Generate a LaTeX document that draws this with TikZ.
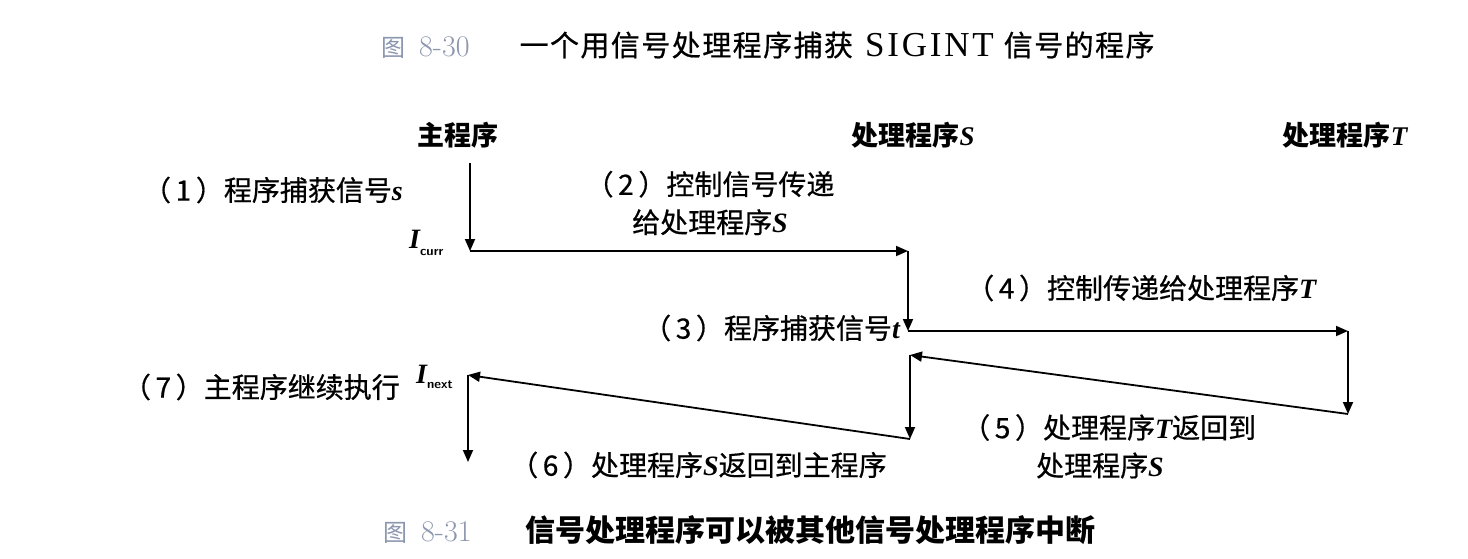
\documentclass[tikz,border=0pt]{standalone}
\usepackage{fontspec}
\newfontfamily\cjk{Noto Sans CJK SC}
\newfontfamily\cjkm[FakeBold=0.6]{Noto Sans CJK SC}
\newfontfamily\cjkt[FakeBold=0.6,LetterSpace=5]{Noto Sans CJK SC}
\newfontfamily\tms{Liberation Serif}
\newfontfamily\tmsw[LetterSpace=8]{Liberation Serif}
\usetikzlibrary{arrows.meta}
\definecolor{figgray}{RGB}{140,150,175}
\newcommand\latit[1]{{\tms\bfseries\itshape #1}}
\tikzset{
  flow/.style={line width=1.8pt, -{Triangle[length=12pt,width=10pt]}},
  lbl/.style={inner sep=0pt, font=\cjkm\fontsize{28}{38}\selectfont, align=left},
  head/.style={inner sep=0pt, font=\cjk\bfseries\fontsize{27}{30}\selectfont},
  figcap/.style={inner sep=0pt, font=\cjkt\fontsize{29}{32}\selectfont},
  ivar/.style={inner sep=0pt, font=\fontsize{28}{28}\selectfont},
}
\begin{document}
\begin{tikzpicture}[x=1pt,y=-1pt]
\useasboundingbox[fill=white] (0,0) rectangle (1468,558);

% captions
\node[figcap, anchor=west] (title) at (381,45)
  {{\color{figgray}\cjk\fontsize{24}{24}\selectfont 图\hspace{14pt}{\rmfamily\fontsize{30}{30}\selectfont 8-30}}\hspace{50pt}一个用信号处理程序捕获\hspace{12pt}{\tmsw\fontsize{35}{35}\selectfont SIGINT}\hspace{10pt}信号的程序};
\node[figcap, anchor=west, font=\cjk\bfseries\fontsize{30}{32}\selectfont] (caption) at (383,530)
  {{\color{figgray}\mdseries\fontsize{24}{24}\selectfont 图\hspace{14pt}{\rmfamily\fontsize{30}{30}\selectfont 8-31}}\hspace{54pt}信号处理程序可以被其他信号处理程序中断};

% headings
\node[head] (hmain) at (458,135) {主程序};
\node[head] (hS) at (913,135) {处理程序\latit{S}};
\node[head] (hT) at (1345,135) {处理程序\latit{T}};

% path coordinates
\coordinate (m0) at (470,163);
\coordinate (m1) at (470,251);
\coordinate (s1) at (908,251);
\coordinate (s2) at (908,331);
\coordinate (t1) at (1348,331);
\coordinate (t2) at (1348,414);
\coordinate (s3) at (910,355);
\coordinate (s4) at (910,439);
\coordinate (m2) at (468,375);
\coordinate (m3) at (468,462);

\draw[flow] (m0) -- (m1);
\draw[flow] (m1) -- (s1);
\draw[flow] (s1) -- (s2);
\draw[flow] (s2) -- (t1);
\draw[flow] (t1) -- (t2);
\draw[flow] (t2) -- (s3);
\draw[flow] (s3) -- (s4);
\draw[flow] (s4) -- (m2);
\draw[flow] (m2) -- (m3);

% labels
\node[lbl, anchor=east] (l1) at (403,190) {（\,1\,）程序捕获信号\latit{s}};
\node[ivar, anchor=west] (icurr) at (409,243) {\latit{I}\raisebox{-7pt}{\sffamily\bfseries\fontsize{13}{13}\selectfont curr}};
\node[lbl, align=center] (l2) at (710,203) {（\,2\,）控制信号传递\\给处理程序\latit{S}};
\node[lbl, anchor=east] (l3) at (900,328) {（\,3\,）程序捕获信号\latit{t}};
\node[lbl, anchor=west] (l4) at (966,288) {（\,4\,）控制传递给处理程序\latit{T}};
\node[lbl, anchor=east] (l7) at (400,387) {（\,7\,）主程序继续执行};
\node[ivar, anchor=west] (inext) at (416,377) {\latit{I}\raisebox{-5pt}{\sffamily\bfseries\fontsize{13}{13}\selectfont next}};
\node[lbl, anchor=west] (l6) at (510,465) {（\,6\,）处理程序\latit{S}返回到主程序};
\node[lbl, anchor=north west] (l5) at (962,414) {（\,5\,）处理程序\latit{T}返回到\\\hspace{74pt}处理程序\latit{S}};
\end{tikzpicture}
\end{document}
